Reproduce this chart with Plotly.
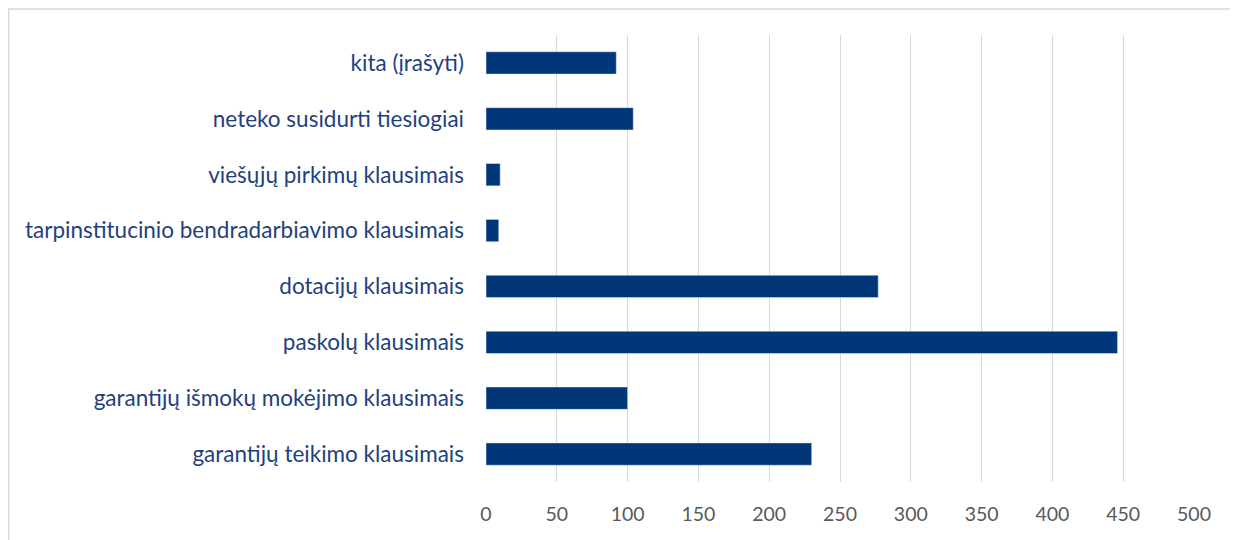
import plotly.graph_objects as go

categories = [
    "garantijų teikimo klausimais",
    "garantijų išmokų mokėjimo klausimais",
    "paskolų klausimais",
    "dotacijų klausimais",
    "tarpinstitucinio bendradarbiavimo klausimais",
    "viešųjų pirkimų klausimais",
    "neteko susidurti tiesiogiai",
    "kita (įrašyti)",
]
values = [230, 100, 446, 277, 9, 10, 104, 92]
tick_vals = [0, 50, 100, 150, 200, 250, 300, 350, 400, 450, 500]

# page body has an 8px margin, so the figure is a bit smaller than the window
W, H = 1230, 532
ml, mr, mt, mb = 478, 44, 27, 58
pw = W - ml - mr
ph = H - mt - mb

fig = go.Figure()
fig.add_trace(go.Bar(
    x=values, y=categories, orientation="h",
    marker=dict(color="#003778"), width=0.4,
))

fig.update_layout(
    width=W, height=H,
    margin=dict(l=ml, r=mr, t=mt, b=mb),
    plot_bgcolor="white", paper_bgcolor="white",
    showlegend=False,
    font=dict(family="Lato, sans-serif"),
)
fig.update_xaxes(
    range=[0, 500], tickvals=tick_vals,
    showgrid=True, gridcolor="#d9d9d9", gridwidth=1,
    zeroline=False, showline=False,
    tickfont=dict(size=19.5, color="#595959"),
    ticks="", ticklen=0, ticklabelstandoff=18,
)
fig.update_yaxes(
    showgrid=False, showline=False, ticks="",
    tickfont=dict(size=22.5, color="#1f3f7f"),
    ticklabelstandoff=21,
)
# outer chart frame
fig.add_shape(
    type="rect", xref="paper", yref="paper",
    x0=-ml / pw + 0.001, x1=(W - 1 - ml) / pw,
    y0=-(mb + 2) / ph, y1=1 + mt / ph - 0.002,
    line=dict(color="#d9d9d9", width=1.5), layer="below",
)

fig.write_html("out.html")
